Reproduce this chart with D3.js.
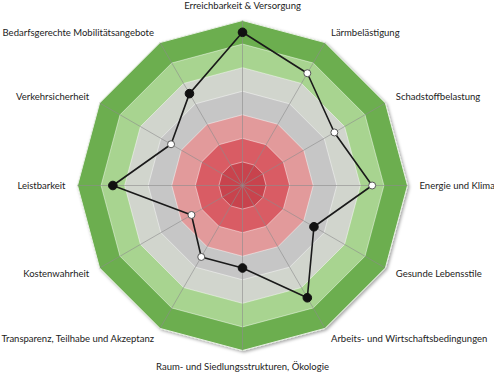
<!DOCTYPE html>
<html>
<head>
<meta charset="utf-8">
<script src="https://cdn.jsdelivr.net/npm/d3@7"></script>
<style>
  body { margin: 0; background: #fff; }
  svg text { font-family: Lato, "Noto Sans", sans-serif; font-size: 9.5px; fill: #222; }
</style>
</head>
<body>
<svg id="radar" width="494" height="373"></svg>
<script>
// axis labels, clockwise from the top
var axes = [
  "Erreichbarkeit & Versorgung",
  "Lärmbelästigung",
  "Schadstoffbelastung",
  "Energie und Klima",
  "Gesunde Lebensstile",
  "Arbeits- und Wirtschaftsbedingungen",
  "Raum- und Siedlungsstrukturen, Ökologie",
  "Transparenz, Teilhabe und Akzeptanz",
  "Kostenwahrheit",
  "Leistbarkeit",
  "Verkehrsicherheit",
  "Bedarfsgerechte Mobilitätsangebote"
];
var values = [6.5, 5.5, 4.5, 5.5, 3.5, 5.5, 3.5, 3.5, 2.5, 5.5, 3.5, 4.5];
var hollow = [false, true, true, true, false, false, false, true, true, false, true, false];
var levels = [1, 2, 3, 4, 5, 6, 7];
var bandColors = ["#c8434d", "#d95c64", "#e29a9b", "#c6c6c6", "#d1d5cd", "#a8d490", "#6cae4f"];

var cx = 242.5, cy = 185.5, R = 165;
var n = axes.length;

var svg = d3.select("#radar");
var defs = svg.append("defs");
var f = defs.append("filter").attr("id", "shadow")
    .attr("x", "-10%").attr("y", "-10%").attr("width", "120%").attr("height", "120%");
f.append("feDropShadow").attr("dx", 1.5).attr("dy", 1.5).attr("stdDeviation", 1.5)
    .attr("flood-color", "#000").attr("flood-opacity", 0.35);

var g = svg.append("g").attr("transform", "translate(" + cx + "," + cy + ")");

var r = d3.scaleLinear().domain([0, 7]).range([0, R]);
var angle = d3.scaleLinear().domain([0, n]).range([0, 2 * Math.PI]);

function pt(i, v) {
  var a = angle(i);
  return [r(v) * Math.sin(a), -r(v) * Math.cos(a)];
}

var ring = d3.line().curve(d3.curveLinearClosed);

// bands, outermost first
levels.slice().reverse().forEach(function(lv) {
  g.append("path")
    .attr("d", ring(d3.range(n).map(function(i) { return pt(i, lv); })))
    .attr("fill", bandColors[lv - 1])
    .attr("stroke", lv == 7 ? "#e8f0e4" : "#fff")
    .attr("stroke-opacity", lv == 7 ? 1 : 0.45)
    .attr("stroke-width", 1)
    .attr("filter", lv == 7 ? "url(#shadow)" : null);
});

// spokes
g.selectAll(".spoke")
    .data(d3.range(n))
  .enter().append("line")
    .attr("class", "spoke")
    .attr("x1", 0).attr("y1", 0)
    .attr("x2", function(i) { return pt(i, 7)[0]; })
    .attr("y2", function(i) { return pt(i, 7)[1]; })
    .attr("stroke", "#8c8c8c")
    .attr("stroke-opacity", 0.6)
    .attr("stroke-width", 1);

// data line
g.append("path")
    .attr("d", ring(values.map(function(v, i) { return pt(i, v); })))
    .attr("fill", "none")
    .attr("stroke", "#1a1a1a")
    .attr("stroke-width", 1.6)
    .attr("stroke-linejoin", "round");

g.selectAll(".dot")
    .data(values)
  .enter().append("circle")
    .attr("class", "dot")
    .attr("cx", function(v, i) { return pt(i, v)[0]; })
    .attr("cy", function(v, i) { return pt(i, v)[1]; })
    .attr("r", function(v, i) { return hollow[i] ? 3.5 : 4.3; })
    .attr("fill", function(v, i) { return hollow[i] ? "#fff" : "#111"; })
    .attr("stroke", function(v, i) { return hollow[i] ? "#555" : "#111"; })
    .attr("stroke-width", 1);

// labels
var labelR = 177;
g.selectAll(".lbl")
    .data(axes)
  .enter().append("text")
    .attr("class", "lbl")
    .attr("x", function(d, i) { return labelR * Math.sin(angle(i)); })
    .attr("y", function(d, i) {
      var y = -labelR * Math.cos(angle(i));
      if (i == 0) y -= 3;
      if (i == 6) y += 4;
      return y;
    })
    .attr("dy", "0.35em")
    .attr("text-anchor", function(d, i) {
      if (i == 0 || i == 6) return "middle";
      return i < 6 ? "start" : "end";
    })
    .text(function(d) { return d; });
</script>
</body>
</html>
